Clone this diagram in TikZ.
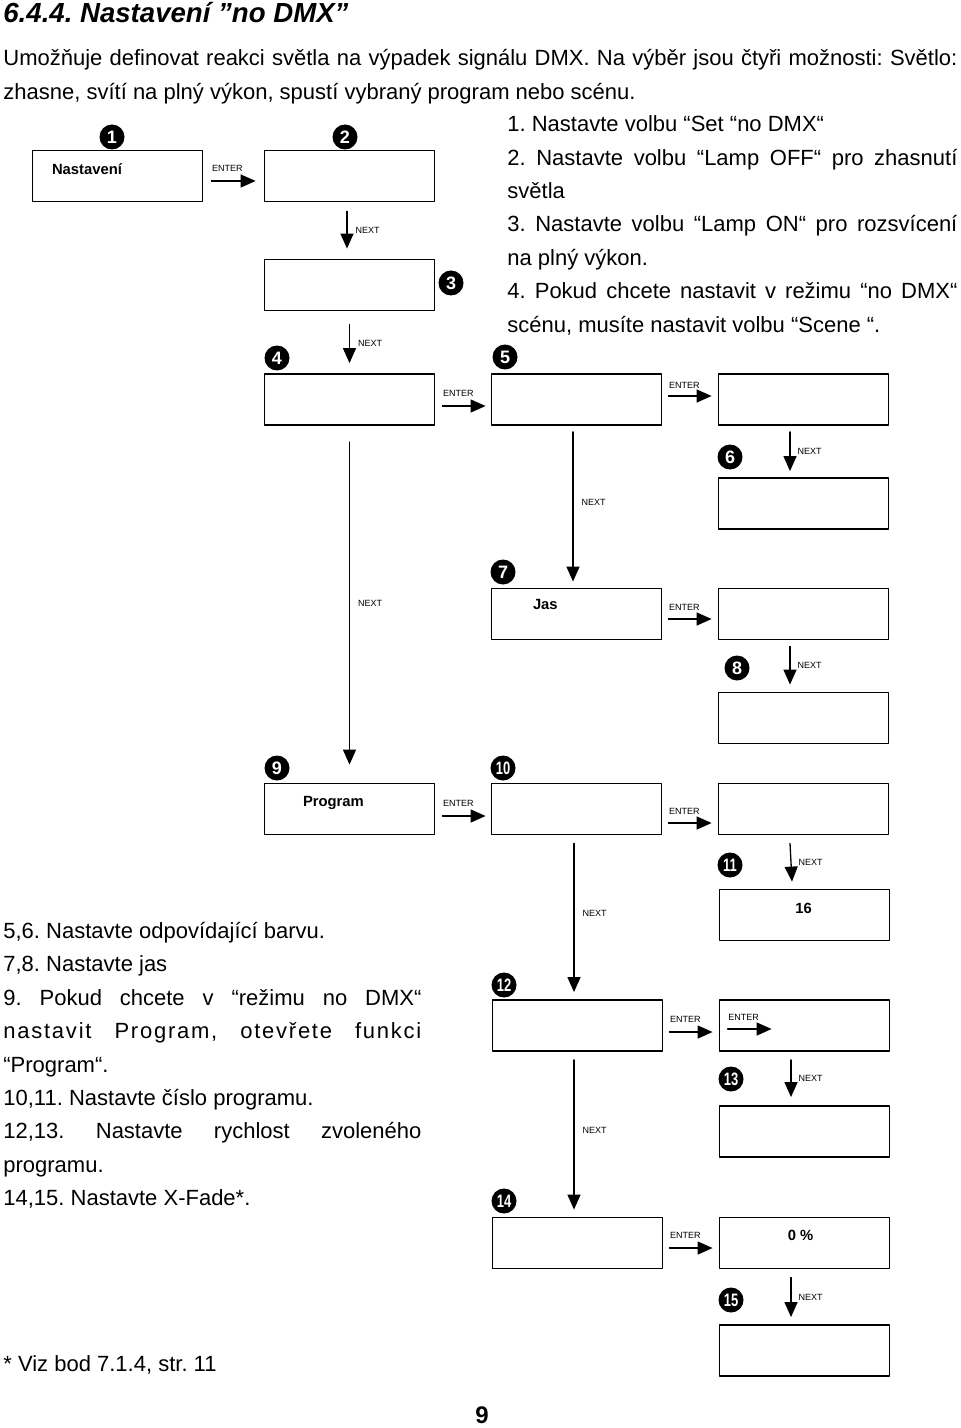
\documentclass[tikz,border=0pt]{standalone}
\usepackage{graphicx}
\usepackage{fontspec}
\setmainfont{Liberation Sans}
\frenchspacing
\usetikzlibrary{arrows.meta,positioning}

\begin{document}
\begin{tikzpicture}[line cap=round,line join=round,>={Triangle[length=7.5pt,width=6.5pt]},x=0.5pt,y=-0.5pt,
  okno/.style={draw,line width=0.9pt,minimum width=85pt,minimum height=25.5pt,inner sep=0pt},
  cislo/.style={circle,fill=black,text=white,minimum size=12.5pt,inner sep=0pt,font=\fontsize{9}{9}\selectfont\bfseries},
  popis/.style={font=\fontsize{4.5}{4.5}\selectfont,inner sep=0pt},
  sipka/.style={->,line width=0.65pt},
  textokna/.style={font=\fontsize{7.4}{7.4}\selectfont\bfseries,inner sep=0pt},
  radek/.style={font=\fontsize{11}{11}\selectfont,inner sep=0pt,anchor=base west}]
\useasboundingbox (0,0) rectangle (960,1428);
% texty nahore
\node[radek,font=\fontsize{13.8}{13.8}\selectfont\bfseries\itshape] (nadpis) at (3,23) {6.4.4. Nastavení ”no DMX”};
\node[radek] (uvod1) at (3,66) {\makebox[477pt][s]{Umožňuje definovat reakci světla na výpadek signálu DMX. Na výběr jsou čtyři možnosti: Světlo:}};
\node[radek] (uvod2) at (3,100) {zhasne, svítí na plný výkon, spustí vybraný program nebo scénu.};
\node[radek] (bod1) at (507,132) {1. Nastavte volbu “Set “no DMX“};
\node[radek] (bod2) at (507,165.5) {\makebox[225pt][s]{2. Nastavte volbu “Lamp OFF“ pro zhasnutí}};
\node[radek] (bod2b) at (507,199) {světla};
\node[radek] (bod3) at (507,232) {\makebox[225pt][s]{3. Nastavte volbu “Lamp ON“ pro rozsvícení}};
\node[radek] (bod3b) at (507,266) {na plný výkon.};
\node[radek] (bod4) at (507,299) {\makebox[225pt][s]{4. Pokud chcete nastavit v režimu “no DMX“}};
\node[radek] (bod4b) at (507,332.5) {scénu, musíte nastavit volbu “Scene “.};
% okna displeje
\node[okno] (b1) at (117.5,176) {};
\node[okno] (b2) at (349.5,176) {};
\node[okno] (b3) at (349.5,285) {};
\node[okno] (b4) at (349.5,399.5) {};
\node[okno] (b5) at (576.5,399.5) {};
\node[okno] (b6a) at (803.5,399.5) {};
\node[okno] (b6) at (803.5,503.5) {};
\node[okno] (b7) at (576.5,614) {};
\node[okno] (b8a) at (803.5,614) {};
\node[okno] (b8) at (803.5,718) {};
\node[okno] (b9) at (349.5,809) {};
\node[okno] (b10) at (576.5,809) {};
\node[okno] (b11a) at (803.5,809) {};
\node[okno] (b11) at (804.5,915) {};
\node[okno] (b12) at (577.5,1025.5) {};
\node[okno] (b13a) at (804.5,1025.5) {};
\node[okno] (b13) at (804.5,1131.5) {};
\node[okno] (b14) at (577.5,1243) {};
\node[okno] (b15a) at (804.5,1243) {};
\node[okno] (b15) at (804.5,1350.5) {};
\node[textokna,anchor=west] at ([xshift=10pt,yshift=-10pt]b1.north west) {Nastavení};
\node[textokna,anchor=west] at ([xshift=21pt,yshift=-8.5pt]b7.north west) {Jas};
\node[textokna,anchor=west] at ([xshift=19.5pt,yshift=-10pt]b9.north west) {Program};
\node[textokna] at ([xshift=-0.5pt,yshift=-10pt]b11.north) {16};
\node[textokna] at ([xshift=-2pt,yshift=-9.5pt]b15a.north) {0 \%};
% cisla krokov
\node[cislo] (k1) at (112,137) {1};
\node[cislo] (k2) at (345,137) {2};
\node[cislo] (k3) at (451,283) {3};
\node[cislo] (k4) at (277,358) {4};
\node[cislo] (k5) at (505,357) {5};
\node[cislo] (k6) at (730,457) {6};
\node[cislo] (k7) at (503,572) {7};
\node[cislo] (k8) at (737,668) {8};
\node[cislo] (k9) at (277,768) {9};
\node[cislo] (k10) at (503,768) {\scalebox{0.72}[1]{10}};
\node[cislo] (k11) at (730,865) {\scalebox{0.72}[1]{11}};
\node[cislo] (k12) at (504,985) {\scalebox{0.72}[1]{12}};
\node[cislo] (k13) at (731,1079) {\scalebox{0.72}[1]{13}};
\node[cislo] (k14) at (504,1201) {\scalebox{0.72}[1]{14}};
\node[cislo] (k15) at (731,1300) {\scalebox{0.72}[1]{15}};
% ENTER
\draw[sipka] ([xshift=4pt,yshift=-2.5pt]b1.east) -- ([xshift=-4pt,yshift=-2.5pt]b2.west) node[popis,pos=0,anchor=base west,yshift=4.5pt]{ENTER};
\draw[sipka] ([xshift=3.5pt,yshift=-3.25pt]b4.east) -- ([xshift=-2.5pt,yshift=-3.25pt]b5.west) node[popis,pos=0,anchor=base west,yshift=5pt]{ENTER};
\draw[sipka] ([xshift=3pt,yshift=1.75pt]b5.east) -- ([xshift=-3pt,yshift=1.75pt]b6a.west) node[popis,pos=0,anchor=base west,yshift=4pt]{ENTER};
\draw[sipka] ([xshift=3pt,yshift=-2.5pt]b7.east) -- ([xshift=-3pt,yshift=-2.5pt]b8a.west) node[popis,pos=0,anchor=base west,yshift=4.5pt]{ENTER};
\draw[sipka] ([xshift=3.5pt,yshift=-3.5pt]b9.east) -- ([xshift=-2.5pt,yshift=-3.5pt]b10.west) node[popis,pos=0,anchor=base west,yshift=5pt]{ENTER};
\draw[sipka] ([xshift=3pt,yshift=-7pt]b10.east) -- ([xshift=-3pt,yshift=-7pt]b11a.west) node[popis,pos=0,anchor=base west,yshift=4.5pt]{ENTER};
\draw[sipka] ([xshift=3pt,yshift=-3.25pt]b12.east) -- ([xshift=-3pt,yshift=-3.25pt]b13a.west) node[popis,pos=0,anchor=base west,yshift=5pt]{ENTER};
\draw[sipka] ([xshift=4.5pt,yshift=-1.75pt]b13a.west) -- ++(44,0) node[popis,pos=0,anchor=base west,yshift=4.5pt]{ENTER};
\draw[sipka] ([xshift=3pt,yshift=-2.5pt]b14.east) -- ([xshift=-3pt,yshift=-2.5pt]b15a.west) node[popis,pos=0,anchor=base west,yshift=5pt]{ENTER};
% NEXT
\draw[sipka] ([xshift=-1.25pt,yshift=-4.5pt]b2.south) -- ([xshift=-1.25pt,yshift=5pt]b3.north) node[popis,pos=0.5,anchor=west,xshift=4pt]{NEXT};
\draw[sipka] ([yshift=-6.5pt]b3.south) -- ([yshift=5pt]b4.north) node[popis,pos=0.5,anchor=west,xshift=4pt]{NEXT};
\draw[sipka] ([xshift=-6.75pt,yshift=-3pt]b6a.south) -- ([xshift=-6.75pt,yshift=3pt]b6.north) node[popis,pos=0.5,anchor=west,xshift=3.5pt]{NEXT};
\draw[sipka] ([xshift=-6.75pt,yshift=-3pt]b8a.south) -- ([xshift=-6.75pt,yshift=3.5pt]b8.north) node[popis,pos=0.5,anchor=west,xshift=3.5pt]{NEXT};
\draw[sipka] ([xshift=-6.75pt,yshift=-4pt]b11a.south) -- ([xshift=-6.25pt,yshift=3.5pt]b11.north) node[popis,pos=0.5,anchor=west,xshift=3.5pt]{NEXT};
\draw[sipka] ([xshift=-6.75pt,yshift=-4pt]b13a.south) -- ([xshift=-6.75pt,yshift=4pt]b13.north) node[popis,pos=0.5,anchor=west,xshift=3.5pt]{NEXT};
\draw[sipka] ([xshift=-6.75pt,yshift=-4pt]b15a.south) -- ([xshift=-6.75pt,yshift=3.5pt]b15.north) node[popis,pos=0.5,anchor=west,xshift=3.5pt]{NEXT};
\draw[sipka] ([yshift=-8pt]b4.south) -- ([yshift=9pt]b9.north) node[popis,pos=0.5,anchor=west,xshift=4pt]{NEXT};
\draw[sipka] ([xshift=-1.75pt,yshift=-3pt]b5.south) -- ([xshift=-1.75pt,yshift=3pt]b7.north) node[popis,pos=0.47,anchor=west,xshift=4pt]{NEXT};
\draw[sipka] ([xshift=-1.25pt,yshift=-4pt]b10.south) -- ([xshift=-1.75pt,yshift=3.5pt]b12.north) node[popis,pos=0.47,anchor=west,xshift=4pt]{NEXT};
\draw[sipka] ([xshift=-1.75pt,yshift=-4pt]b12.south) -- ([xshift=-1.75pt,yshift=3.5pt]b14.north) node[popis,pos=0.47,anchor=west,xshift=4pt]{NEXT};
% texty dole
\node[radek] (pozn1) at (3,938) {5,6. Nastavte odpovídající barvu.};
\node[radek] (pozn2) at (3,971.5) {7,8. Nastavte jas};
\node[radek] (pozn3) at (3,1005) {\makebox[209pt][s]{9. Pokud chcete v “režimu no DMX“}};
\node[radek] (pozn3b) at (3,1038) {\makebox[209pt][s]{\addfontfeature{LetterSpace=8}nastavit Program, otevřete funkci}};
\node[radek] (pozn3c) at (3,1072) {“Program“.};
\node[radek] (pozn4) at (3,1105) {10,11. Nastavte číslo programu.};
\node[radek] (pozn5) at (3,1138.5) {\makebox[209pt][s]{12,13. Nastavte rychlost zvoleného}};
\node[radek] (pozn5b) at (3,1172) {programu.};
\node[radek] (pozn6) at (3,1205) {14,15. Nastavte X-Fade*.};
\node[radek] (pozn7) at (3,1371) {* Viz bod 7.1.4, str. 11};
\node[radek,anchor=base,font=\fontsize{12}{12}\selectfont\bfseries] (strana) at (482,1423) {9};
\end{tikzpicture}
\end{document}
